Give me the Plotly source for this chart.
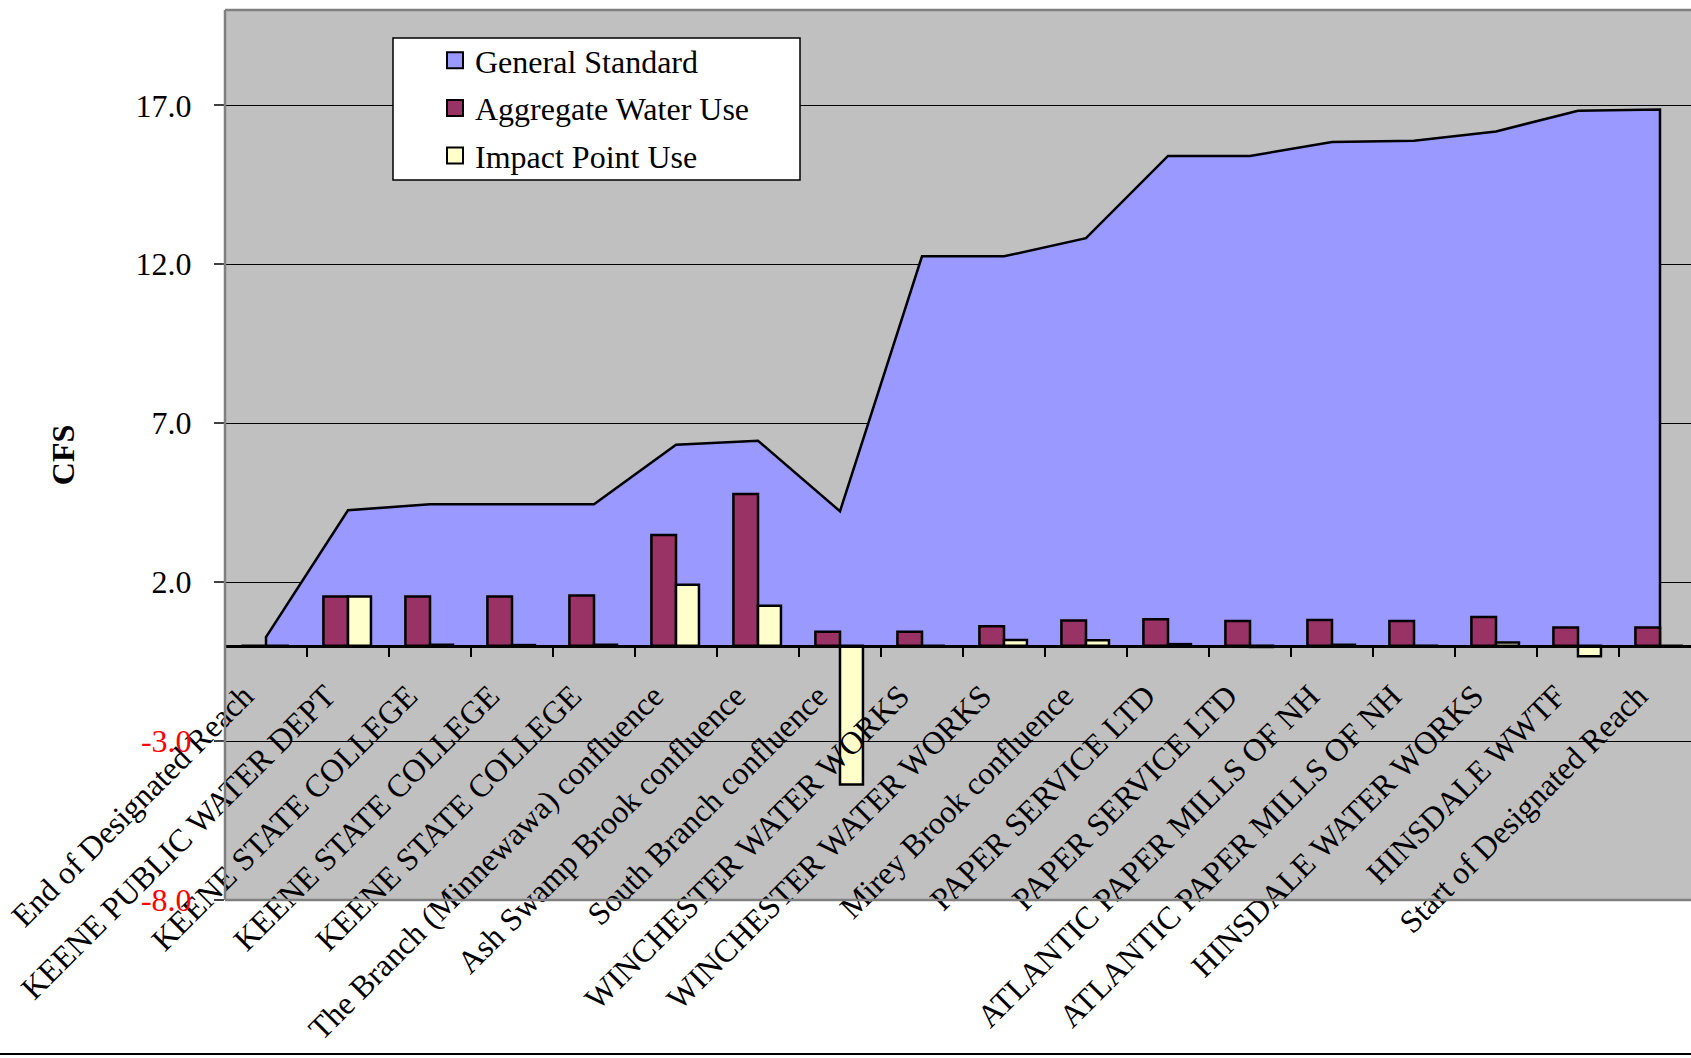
import plotly.graph_objects as go

categories = [
    "End of Designated Reach",
    "KEENE PUBLIC WATER DEPT",
    "KEENE STATE COLLEGE",
    "KEENE STATE COLLEGE",
    "KEENE STATE COLLEGE",
    "The Branch (Minnewawa) confluence",
    "Ash Swamp Brook confluence",
    "South Branch confluence",
    "WINCHESTER WATER WORKS",
    "WINCHESTER WATER WORKS",
    "Mirey Brook confluence",
    "PAPER SERVICE LTD",
    "PAPER SERVICE LTD",
    "ATLANTIC PAPER MILLS OF NH",
    "ATLANTIC PAPER MILLS OF NH",
    "HINSDALE WATER WORKS",
    "HINSDALE WWTF",
    "Start of Designated Reach",
]
general_standard = [0.27, 4.26, 4.45, 4.45, 4.45, 6.32, 6.45, 4.23, 12.25, 12.25,
                    12.82, 15.41, 15.41, 15.85, 15.89, 16.18, 16.83, 16.87]
aggregate_water_use = [0.0, 1.55, 1.55, 1.55, 1.58, 3.48, 4.77, 0.44, 0.44, 0.61,
                       0.79, 0.83, 0.78, 0.81, 0.78, 0.9, 0.57, 0.57]
impact_point_use = [0.0, 1.55, 0.03, 0.02, 0.03, 1.92, 1.26, -4.37, 0.0, 0.18,
                    0.17, 0.05, -0.04, 0.03, -0.02, 0.1, -0.33, 0.0]
series_names = ["General Standard", "Aggregate Water Use", "Impact Point Use"]
series_colors = ["#9999FF", "#993366", "#FFFFCC"]
y_ticks = [-8, -3, 2, 7, 12, 17]

FONT = "Liberation Serif, Times New Roman, serif"
W, H = 1691, 1058
ML, MR, MT, MB = 225, 0, 10, 158
PW, PH = W - ML - MR, H - MT - MB

def px_x(px):
    return (px - ML) / PW

def px_y(py):
    return (H - MB - py) / PH

xs = list(range(len(categories)))
ymin, ymax = -8, 20
xmax = -0.5 + PW / 82.0

fig = go.Figure()

# area drawn with closed vertical edges at both ends
area_x = [xs[0]] + xs + [xs[-1]]
area_y = [0] + general_standard + [0]
fig.add_trace(go.Scatter(
    x=area_x, y=area_y, mode="lines", fill="tozeroy",
    fillcolor=series_colors[0], line=dict(color="black", width=2.5),
    name=series_names[0], showlegend=False, hoverinfo="skip",
    xaxis="x", yaxis="y",
))

fig.add_trace(go.Bar(
    x=xs, y=aggregate_water_use, name=series_names[1],
    offset=-0.3, width=0.3, showlegend=False,
    marker=dict(color=series_colors[1], line=dict(color="black", width=2.5)),
    xaxis="x2", yaxis="y2",
))
fig.add_trace(go.Bar(
    x=xs, y=impact_point_use, name=series_names[2],
    offset=0.0, width=0.28, showlegend=False,
    marker=dict(color=series_colors[2], line=dict(color="black", width=2.5)),
    xaxis="x2", yaxis="y2",
))

# legend entries with square swatches (as in the original legend)
for i, (nm, col) in enumerate(zip(series_names, series_colors)):
    fig.add_trace(go.Scatter(
        x=[None], y=[None], mode="markers", name=nm,
        marker=dict(symbol="square", size=18, color=col,
                    line=dict(color="black", width=2)),
        legendgroup=f"g{i}", xaxis="x2", yaxis="y2",
    ))

ticktext_y = []
for v in y_ticks:
    s = f"{v:.1f}"
    if v < 0:
        s = f'<span style="color:#FF0000">{s}</span>'
    ticktext_y.append(s)

fig.update_layout(
    width=W, height=H,
    margin=dict(l=ML, r=MR, t=MT, b=MB, autoexpand=False),
    paper_bgcolor="white",
    plot_bgcolor="#C0C0C0",
    font=dict(family=FONT, size=32, color="black"),
    barmode="overlay",
    xaxis=dict(
        range=[-0.5, xmax], anchor="free", position=(0 - ymin) / (ymax - ymin),
        tickmode="array", tickvals=xs, ticktext=categories, tickangle=-45,
        ticks="", showgrid=False, zeroline=False,
        showline=True, linecolor="black", linewidth=2.5,
        ticklabelshift=-22, ticklabelstandoff=17,
        tickfont=dict(family=FONT, size=32),
        minor=dict(tickmode="linear", tick0=-0.5, dtick=1, ticks="outside",
                   ticklen=10, tickwidth=1.5, tickcolor="black", showgrid=False),
        automargin=False, fixedrange=True,
    ),
    yaxis=dict(
        range=[ymin, ymax], tickmode="array", tickvals=y_ticks, ticktext=ticktext_y,
        showgrid=True, gridcolor="#000000", gridwidth=1, zeroline=False,
        ticks="outside", ticklen=10, tickcolor="#404040", tickwidth=1.5,
        ticklabelstandoff=16, showline=False,
        title=dict(text="<b>CFS</b>", standoff=51, font=dict(family=FONT, size=32)),
        automargin=False, fixedrange=True,
    ),
    xaxis2=dict(overlaying="x", matches="x", visible=False, anchor="y2"),
    yaxis2=dict(overlaying="y", matches="y", visible=False, anchor="x2"),
    legend=dict(
        x=px_x(435), y=px_y(33), xanchor="left", yanchor="top",
        bgcolor="rgba(0,0,0,0)", borderwidth=0, itemsizing="trace",
        font=dict(family=FONT, size=32), traceorder="grouped",
        tracegroupgap=3,
    ),
    showlegend=True,
    shapes=[
        # legend box
        dict(type="rect", xref="paper", yref="paper",
             x0=px_x(393), x1=px_x(800), y0=px_y(180), y1=px_y(38),
             fillcolor="white", line=dict(color="black", width=1.5), layer="above"),
        # plot area border (left, top, bottom)
        dict(type="line", xref="paper", yref="paper", x0=0, x1=0, y0=0, y1=1,
             line=dict(color="#808080", width=2.5), layer="above"),
        dict(type="line", xref="paper", yref="paper", x0=0, x1=1, y0=1, y1=1,
             line=dict(color="#808080", width=2.5), layer="above"),
        dict(type="line", xref="paper", yref="paper", x0=0, x1=1, y0=0, y1=0,
             line=dict(color="#808080", width=2.5), layer="above"),
        # chart frame bottom line
        dict(type="line", xref="paper", yref="paper",
             x0=px_x(0), x1=1, y0=px_y(1054), y1=px_y(1054),
             line=dict(color="black", width=2), layer="above"),
    ],
)

fig.write_html(
    "out.html",
    config={"displayModeBar": False, "staticPlot": False},
    post_script="document.body.style.margin='0px';document.body.style.overflow='hidden';",
)
